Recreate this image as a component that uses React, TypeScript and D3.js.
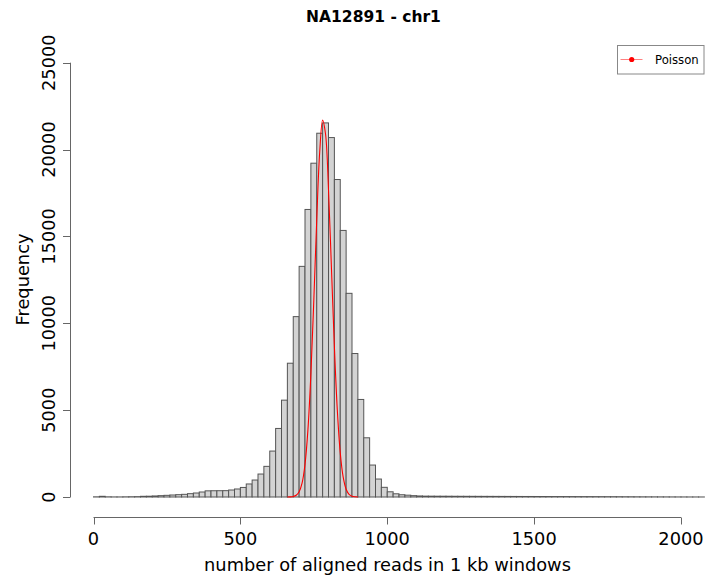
import React from "react";
import * as d3 from "d3";

// Histogram: bins of 20 reads starting at 0
const binEdgesStart = 0;
const binWidth = 20;
const counts: number[] = [
  10, 40, 10, 5, 5, 10, 15, 20, 40, 45,
  60, 77, 96, 115, 134, 154, 192, 230, 288, 355,
  360, 362, 365, 403, 461, 550, 750, 977, 1322, 1764,
  2644, 3946, 5575, 7701, 10383, 13276, 16552, 19215, 20940, 21534,
  20690, 18276, 15345, 11724, 8259, 5615, 3408, 1839, 1034, 557,
  300, 185, 130, 105, 77, 60, 50, 48, 46, 45,
  44, 42, 41, 40, 39, 38, 37, 36, 35, 34,
  33, 32, 31, 30, 30, 29, 28, 27, 26, 26,
  25, 24, 23, 22, 22, 21, 20, 19, 18, 17,
  15, 14, 12, 11, 10, 9, 8, 7, 6, 5,
  4, 3, 3, 2, 2,
];

// Poisson fit curve
const poissonX: number[] = [
  660, 670, 680, 690, 700, 710, 720, 730, 740, 750, 760, 770, 780,
  790, 800, 810, 820, 830, 840, 850, 860, 870, 880, 890, 900,
];
const poissonY: number[] = [
  2, 7, 29, 98, 299, 798, 1874, 3878, 7062, 11321, 15975, 19843, 21695,
  20880, 17690, 13192, 8659, 5005, 2545, 1140, 449, 156, 48, 13, 3,
];

const xTicks: number[] = [0, 500, 1000, 1500, 2000];
const yTicks: number[] = [0, 5000, 10000, 15000, 20000, 25000];

const titleText = "NA12891 - chr1";
const xLabel = "number of aligned reads in 1 kb windows";
const yLabel = "Frequency";
const legendLabel = "Poisson";

export default function App() {
  const W = 705;
  const H = 578;
  const x = d3.scaleLinear().domain([0, 2000]).range([93.5, 681]);
  const y = d3.scaleLinear().domain([0, 25000]).range([497, 62.7]);
  const plotLeft = 70;
  const plotRight = 704.5;
  const plotTop = 44.6;
  const plotBottom = 514.4;
  const font = "DejaVu Sans, Verdana, sans-serif";
  const fs = 17.8;

  const line = d3
    .line<number>()
    .x((_, i) => x(poissonX[i]))
    .y((d) => y(d))
    .curve(d3.curveCatmullRom);

  const axisY = 517.5;
  const axisX = 70.5;

  return (
    <svg
      width={W}
      height={H}
      style={{ position: "absolute", left: 0, top: 0, background: "#fff" }}
      fontFamily={font}
    >
      <defs>
        <clipPath id="plotclip">
          <rect x={plotLeft} y={plotTop} width={plotRight - plotLeft} height={plotBottom - plotTop} />
        </clipPath>
      </defs>
      <rect x={0} y={0} width={W} height={H} fill="#fff" />
      <g clipPath="url(#plotclip)">
        {counts.map((c, i) => {
          const x0 = x(binEdgesStart + i * binWidth);
          const x1 = x(binEdgesStart + (i + 1) * binWidth);
          const yt = y(c);
          return (
            <rect
              key={i}
              x={x0}
              y={yt}
              width={x1 - x0}
              height={y(0) - yt}
              fill="#d3d3d3"
              stroke="#555"
              strokeWidth={1}
            />
          );
        })}
        <path d={line(poissonY) || ""} fill="none" stroke="#ff0000" strokeWidth={1.1} />
      </g>

      {/* x axis */}
      <line x1={x(0)} x2={x(2000)} y1={axisY} y2={axisY} stroke="#666" />
      {xTicks.map((t) => (
        <g key={t}>
          <line x1={Math.round(x(t)) + 0.5} x2={Math.round(x(t)) + 0.5} y1={axisY} y2={axisY + 7} stroke="#666" />
          <text x={x(t)} y={545} textAnchor="middle" fontSize={fs} fill="#000">
            {t}
          </text>
        </g>
      ))}
      <text x={387.5} y={571} textAnchor="middle" fontSize={fs} fill="#000">
        {xLabel}
      </text>

      {/* y axis */}
      <line x1={axisX} x2={axisX} y1={y(0)} y2={y(25000)} stroke="#666" />
      {yTicks.map((t) => (
        <g key={t}>
          <line x1={axisX - 7.5} x2={axisX} y1={Math.round(y(t)) + 0.5} y2={Math.round(y(t)) + 0.5} stroke="#666" />
          <text
            transform={`translate(55,${y(t)}) rotate(-90)`}
            textAnchor="middle"
            fontSize={fs}
            fill="#000"
          >
            {t}
          </text>
        </g>
      ))}
      <text
        transform={`translate(28.5,${(plotTop + plotBottom) / 2}) rotate(-90)`}
        textAnchor="middle"
        fontSize={fs}
        fill="#000"
      >
        {yLabel}
      </text>

      {/* title */}
      <text x={373.5} y={21.5} textAnchor="middle" fontSize={15.5} fontWeight="bold" fill="#000">
        {titleText}
      </text>

      {/* legend */}
      <rect x={617.5} y={45.5} width={86.5} height={28.5} fill="#fff" stroke="#888" />
      <line x1={620.5} x2={642.5} y1={59.5} y2={59.5} stroke="#ff8080" strokeWidth={1} />
      <circle cx={631.7} cy={59.5} r={2.6} fill="#ff0000" />
      <text x={655} y={64} fontSize={11.7} fill="#000">
        {legendLabel}
      </text>
    </svg>
  );
}
